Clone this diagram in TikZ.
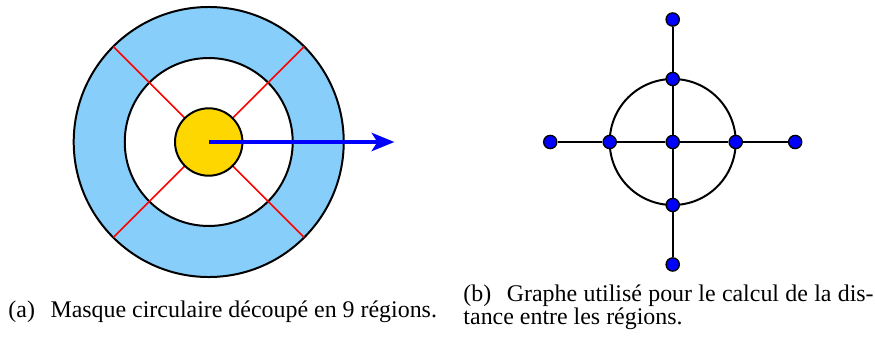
\documentclass[tikz,border=0pt]{standalone}
\usepackage{fontspec}
\setmainfont{Liberation Serif}
\newfontfamily\captionfont{Liberation Serif}
\usepackage{tikz}
\usetikzlibrary{arrows.meta, calc}
\definecolor{ring-color}{RGB}{135,206,250}
\definecolor{core-color}{RGB}{255,215,0}
\definecolor{vertex-color}{RGB}{0,0,255}
\tikzset{vertex/.style={circle, draw=black, fill=vertex-color, line width=0.6pt, minimum size=0.21cm, inner sep=0pt},
    link/.style={line width=0.9pt},
    legende/.style={inner sep=0pt, font=\captionfont\fontsize{10.8}{10.6}\selectfont}}

\begin{document}
\begin{tikzpicture}
    % Page frame with the reference proportions
    \useasboundingbox (0,0) rectangle (13.889,5.444);
    
    % (a) Circular mask - outer ring, inner disc and core
    \coordinate (mc) at (3.313,3.190);
    \fill[ring-color] (mc) circle (2.143);
    \draw[link] (mc) circle (2.143);
    \filldraw[link, fill=white] (mc) circle (1.333);
    
    % Cuts between the regions
    \foreach \a in {45,135,225,315} {
        \draw[red, line width=0.75pt] ([shift={(\a:0.535)}]mc) -- ([shift={(\a:2.143)}]mc);
    }
    
    % Core region and direction arrow
    \filldraw[link, fill=core-color] (mc) circle (0.535);
    \coordinate (tip) at (6.26,3.190);
    \draw[vertex-color, line width=1.7pt, -{Stealth[length=3.6mm, width=2.9mm, inset=0.9mm]}] (mc) -- (tip);
    
    % (b) Graph of the regions - circle through the inner vertices
    \coordinate (gc) at (10.678,3.190);
    \draw[link] (gc) circle (1.0);
    \node[vertex] (c) at (gc) {};
    \foreach \a/\d in {0/e, 90/n, 180/w, 270/s} {
        \node[vertex] (in-\d) at ([shift={(\a:1.0)}]gc) {};
        \node[vertex] (out-\d) at ([shift={(\a:1.944)}]gc) {};
        \draw[link] (c) -- (in-\d) -- (out-\d);
    }
    
    % Captions
    \node[legende, anchor=base west] (cap-a) at (0.127,0.397) {(a)\hspace{0.65em}Masque circulaire découpé en 9 régions.};
    \node[legende, anchor=north west, text width=6.51cm, align=justify] (cap-b) at (7.35,0.93)
        {(b)\hspace{0.65em}Graphe utilisé pour le calcul de la dis-\linebreak tance entre les régions.};
\end{tikzpicture}
\end{document}
